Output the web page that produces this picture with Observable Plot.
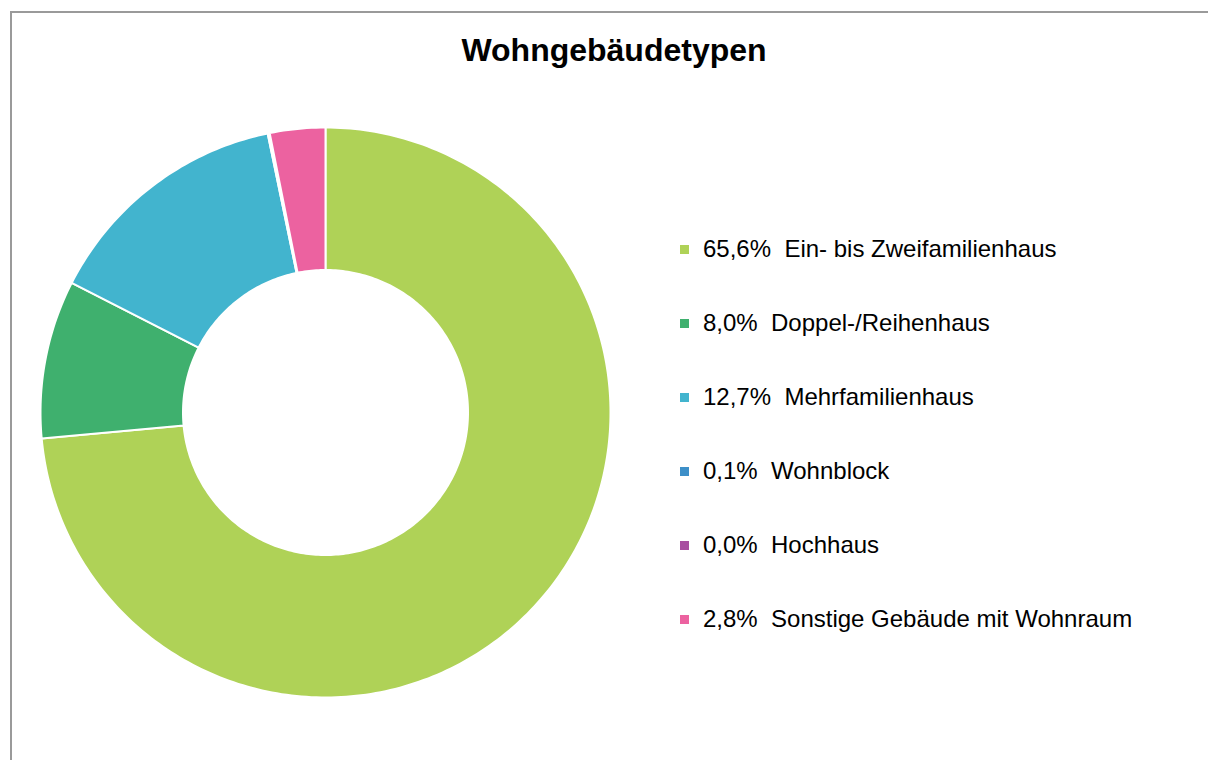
<!DOCTYPE html>
<html>
<head>
<meta charset="utf-8">
<script src="https://cdn.jsdelivr.net/npm/d3@7"></script>
<script src="https://cdn.jsdelivr.net/npm/@observablehq/plot@0.6"></script>
<style>
  html, body { margin: 0; padding: 0; background: #fff; }
  #wrap { position: relative; width: 1208px; height: 760px; overflow: hidden; font-family: "Liberation Sans", Arial, sans-serif; }
  #frame { position: absolute; left: 10px; top: 11px; width: 1300px; height: 800px; border-left: 2px solid #9a9a9a; border-top: 2px solid #9a9a9a; box-sizing: border-box; }
  #title { position: absolute; left: 0; width: 1228px; top: 32px; text-align: center; font-weight: bold; font-size: 32px; color: #000; }
  #chart { position: absolute; left: 0; top: 0; }
  #legend { position: absolute; left: 680px; top: 233px; }
  .row { position: relative; height: 74px; }
  .row .sw { position: absolute; left: 0; top: 12px; width: 9px; height: 9px; }
  .row .tx { position: absolute; left: 23px; top: 0; font-size: 24px; line-height: 32px; white-space: pre; color: #000; }
</style>
</head>
<body>
<div id="wrap">
  <div id="frame"></div>
  <div id="chart"></div>
  <div id="title">Wohngebäudetypen</div>
  <div id="legend"></div>
</div>
<script>
const categories = ["Ein- bis Zweifamilienhaus", "Doppel-/Reihenhaus", "Mehrfamilienhaus", "Wohnblock", "Hochhaus", "Sonstige Gebäude mit Wohnraum"];
const values = [65.6, 8.0, 12.7, 0.1, 0.0, 2.8];
const labels = ["65,6%", "8,0%", "12,7%", "0,1%", "0,0%", "2,8%"];
const colors = ["#afd257", "#3fb06e", "#42b4ce", "#3d8fc8", "#a84fa0", "#ec62a0"];

const innerRatio = 0.5;
const total = d3.sum(values);

// Build slice polygons in unit-circle data space from the values
const pts = [];
let acc = 0;
categories.forEach((name, i) => {
  const a0 = acc / total * 2 * Math.PI;
  acc += values[i];
  const a1 = acc / total * 2 * Math.PI;
  if (a1 - a0 <= 0) return;
  const n = Math.max(2, Math.ceil((a1 - a0) / (Math.PI / 180)));
  for (let k = 0; k <= n; k++) {
    const a = a0 + (a1 - a0) * k / n;
    pts.push({name, x: Math.sin(a), y: Math.cos(a)});
  }
  for (let k = n; k >= 0; k--) {
    const a = a0 + (a1 - a0) * k / n;
    pts.push({name, x: innerRatio * Math.sin(a), y: innerRatio * Math.cos(a)});
  }
});

const chart = Plot.plot({
  width: 1208,
  height: 760,
  margin: 0,
  x: {domain: [-1, 1], range: [40, 610], axis: null},
  y: {domain: [-1, 1], range: [697, 127], axis: null},
  color: {domain: categories, range: colors},
  marks: [
    Plot.line(pts, {x: "x", y: "y", z: "name", fill: "name", stroke: "white", strokeWidth: 2, curve: "linear-closed"})
  ]
});
chart.style.background = "transparent";
document.getElementById("chart").appendChild(chart);

const legend = document.getElementById("legend");
categories.forEach((name, i) => {
  const row = document.createElement("div");
  row.className = "row";
  const sw = document.createElement("div");
  sw.className = "sw";
  sw.style.background = colors[i];
  const tx = document.createElement("div");
  tx.className = "tx";
  tx.textContent = labels[i] + "  " + name;
  row.appendChild(sw);
  row.appendChild(tx);
  legend.appendChild(row);
});
</script>
</body>
</html>
